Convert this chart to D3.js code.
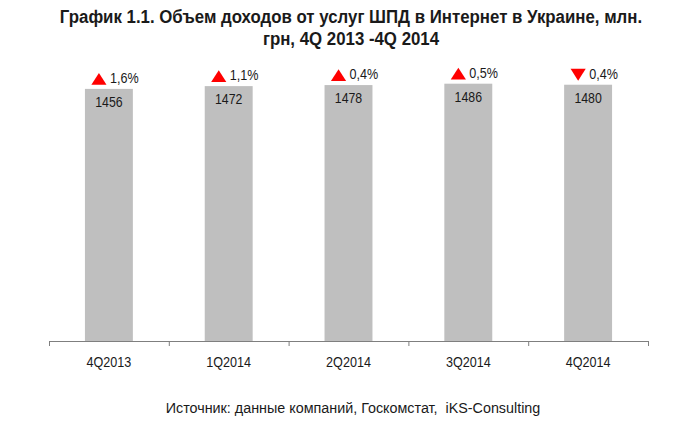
<!DOCTYPE html>
<html lang="ru">
<head>
<meta charset="utf-8">
<title>График 1.1</title>
<style>
  body { margin: 0; background: #fff; }
  svg text { font-family: "Liberation Sans", Arial, sans-serif; }
</style>
</head>
<body>
<script src="https://cdnjs.cloudflare.com/ajax/libs/d3/7.9.0/d3.min.js"></script>
<script>
const categories = ["4Q2013", "1Q2014", "2Q2014", "3Q2014", "4Q2014"];
const values = [1456, 1472, 1478, 1486, 1480];
const changes = ["1,6%", "1,1%", "0,4%", "0,5%", "0,4%"];
const directions = ["up", "up", "up", "up", "down"];

const width = 700, height = 429;
const margin = {left: 49, right: 648, bottom: 341, top: 12};

const svg = d3.select("body").append("svg")
    .attr("width", width)
    .attr("height", height);

// the original uses a narrow font, squeeze text horizontally around its x
function narrow(sel, k) {
    sel.each(function() {
        const x0 = +this.getAttribute("x") || 0;
        d3.select(this).attr("transform", `matrix(${k},0,0,1,${(1 - k) * x0},0)`);
    });
}

const data = categories.map((c, i) => ({cat: c, value: values[i], change: changes[i], dir: directions[i]}));

const x = d3.scaleBand()
    .domain(categories)
    .range([margin.left, margin.right])
    .paddingInner(0.6)
    .paddingOuter(0.3);

const y = d3.scaleLinear()
    .domain([0, 1900])
    .range([margin.bottom, margin.top]);

// title
svg.append("text")
    .attr("x", 351).attr("y", 23)
    .attr("text-anchor", "middle")
    .style("font-size", "18.5px")
    .style("font-weight", "bold")
    .attr("fill", "#1a1a1a")
    .text("График 1.1. Объем доходов от услуг ШПД в Интернет в Украине, млн.")
    .call(narrow, 0.91);
svg.append("text")
    .attr("x", 351).attr("y", 45)
    .attr("text-anchor", "middle")
    .style("font-size", "18.5px")
    .style("font-weight", "bold")
    .attr("fill", "#1a1a1a")
    .text("грн, 4Q 2013 -4Q 2014")
    .call(narrow, 0.91);

// bars
svg.selectAll(".bar")
    .data(data)
    .enter()
    .append("rect")
    .attr("class", "bar")
    .attr("x", d => x(d.cat))
    .attr("y", d => y(d.value))
    .attr("width", x.bandwidth())
    .attr("height", d => y(0) - y(d.value))
    .attr("fill", "#bfbfbf");

// values inside bars
svg.selectAll(".val")
    .data(data)
    .enter()
    .append("text")
    .attr("class", "val")
    .attr("x", d => x(d.cat) + x.bandwidth() / 2)
    .attr("y", d => y(d.value) + 18)
    .attr("text-anchor", "middle")
    .style("font-size", "14px")
    .attr("fill", "#1a1a1a")
    .text(d => d.value)
    .call(narrow, 0.88);

// change markers: flat red triangle + percent
const flatTriangle = {
    draw(ctx, size) {
        const w = Math.sqrt(size), h = w * 0.78;
        ctx.moveTo(-w / 2, h / 2);
        ctx.lineTo(w / 2, h / 2);
        ctx.lineTo(0, -h / 2);
        ctx.closePath();
    }
};
const marks = svg.selectAll(".chg")
    .data(data)
    .enter()
    .append("g")
    .attr("class", "chg")
    .attr("transform", d => `translate(${x(d.cat)},${y(d.value)})`);

marks.append("path")
    .attr("d", d3.symbol().type(flatTriangle).size(230))
    .attr("transform", d => `translate(14,-10)` + (d.dir === "down" ? " rotate(180)" : ""))
    .attr("fill", "#ff0000");

marks.append("text")
    .attr("x", 25)
    .attr("y", -6)
    .style("font-size", "14px")
    .attr("fill", "#1a1a1a")
    .text(d => d.change)
    .call(narrow, 0.9);

// axis with ticks at category boundaries
const edges = d3.scaleLinear().domain([0, categories.length]).range([margin.left, margin.right]);
svg.append("g")
    .attr("transform", `translate(0,${margin.bottom})`)
    .call(d3.axisBottom(edges).ticks(categories.length).tickSize(5).tickSizeOuter(5).tickFormat(""))
    .call(g => g.selectAll("path, line").attr("stroke", "#7f7f7f"));

svg.append("g")
    .attr("transform", `translate(0,${margin.bottom})`)
    .call(d3.axisBottom(x).tickSize(0).tickPadding(16))
    .call(g => g.select(".domain").remove())
    .call(g => g.selectAll("text")
        .style("font-size", "14px")
        .attr("font-family", null)
        .attr("fill", "#1a1a1a")
        .call(narrow, 0.9));

// source
svg.append("text")
    .attr("x", 353)
    .attr("y", 413)
    .attr("text-anchor", "middle")
    .style("font-size", "14.5px")
    .style("white-space", "pre")
    .attr("fill", "#1a1a1a")
    .text("Источник: данные компаний, Госкомстат,  iKS-Consulting")
    .call(narrow, 0.99);
</script>
</body>
</html>
